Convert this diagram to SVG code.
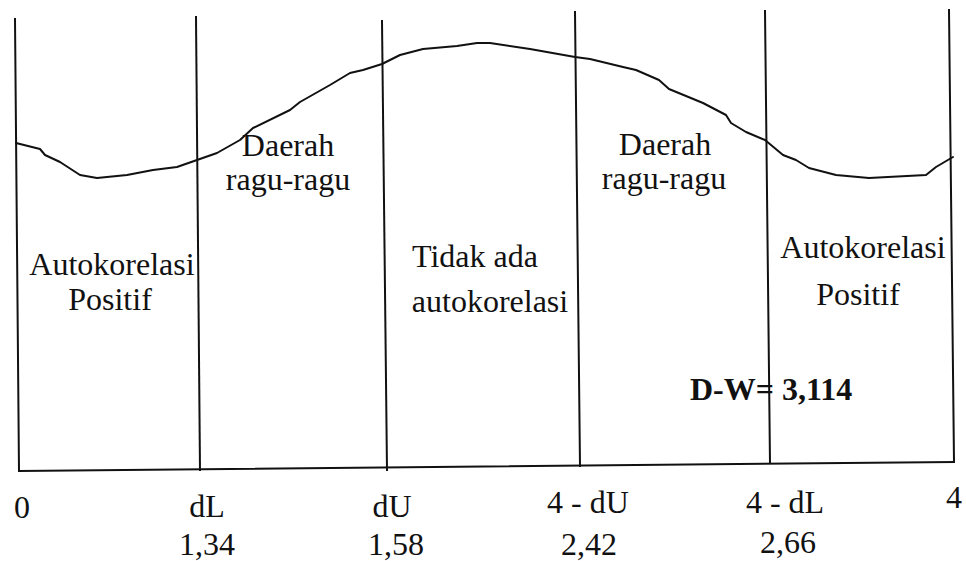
<svg xmlns="http://www.w3.org/2000/svg" width="966" height="561" viewBox="0 0 966 561">
<style>
.ln{stroke:#111;stroke-width:2;fill:none;stroke-linecap:square}
.cv{stroke:#111;stroke-width:2;fill:none;stroke-linejoin:round;stroke-linecap:round}
text{font-family:'Liberation Serif','DejaVu Serif',serif;fill:#111}
.t{font-size:32px;text-anchor:middle}
.b{font-size:32px;font-weight:bold}
</style>
<rect width="966" height="561" fill="#fff"/>
<g id="axes">
<line class="ln" x1="15" y1="19" x2="19" y2="471"/>
<line class="ln" x1="196" y1="17" x2="200" y2="470"/>
<line class="ln" x1="382" y1="21" x2="387" y2="470"/>
<line class="ln" x1="575" y1="12" x2="580" y2="466"/>
<line class="ln" x1="765" y1="11" x2="770" y2="463"/>
<line class="ln" x1="949" y1="10" x2="954" y2="462"/>
<line class="ln" x1="19" y1="471" x2="954" y2="462"/>
</g>
<g id="curve">
<polyline class="cv" points="16,143 40,149 45,155 60,162 80,175 97,178 127,175 153,170 177,167 197,160 217,153 240,140 253,128 290,110 300,102 330,85 350,73 363,70 382,64 400,55 423,49 457,46 477,43 490,43 530,49 575,57 590,59 623,67 636,70 659,80 669,89 703,103 726,115 731,123 746,132 765,140 783,155 796,160 809,168 836,175 869,178 926,175 936,167 953,157"/>
</g>
<g id="region-labels">
<text class="t" x="112" y="275">Autokorelasi</text>
<text class="t" x="110" y="310">Positif</text>
<text class="t" x="288" y="156">Daerah</text>
<text class="t" x="288" y="190">ragu-ragu</text>
<text class="t" x="475" y="267">Tidak ada</text>
<text class="t" x="490" y="312">autokorelasi</text>
<text class="t" x="665" y="155">Daerah</text>
<text class="t" x="664" y="189">ragu-ragu</text>
<text class="t" x="863" y="258">Autokorelasi</text>
<text class="t" x="858" y="305">Positif</text>
<text class="b" x="690" y="400">D-W= 3,114</text>
</g>
<g id="axis-labels">
<text class="t" x="22" y="518">0</text>
<text class="t" x="207" y="517">dL</text>
<text class="t" x="207" y="555">1,34</text>
<text class="t" x="392" y="517">dU</text>
<text class="t" x="396" y="555">1,58</text>
<text class="t" x="588" y="513">4 - dU</text>
<text class="t" x="589" y="555">2,42</text>
<text class="t" x="785" y="513">4 - dL</text>
<text class="t" x="788" y="553">2,66</text>
<text class="t" x="954" y="508">4</text>
</g>
</svg>
